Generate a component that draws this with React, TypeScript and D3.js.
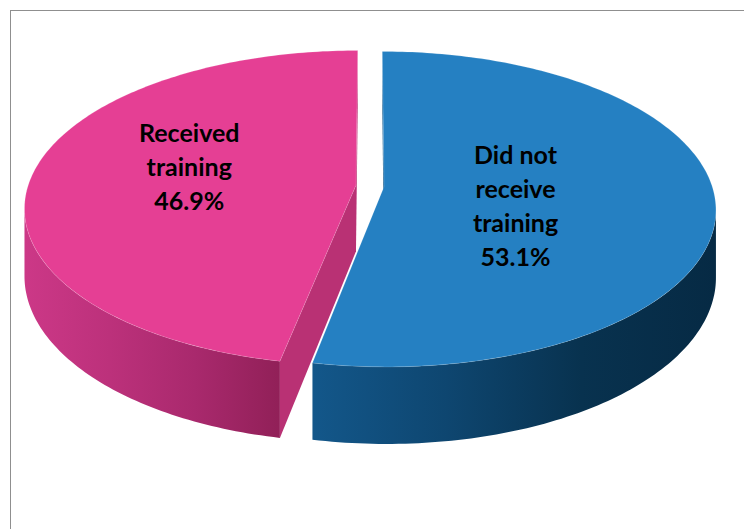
import React from "react";
import * as d3 from "d3";

// ---- data ----
const categories = ["Did not receive training", "Received training"];
const values = [53.1, 46.9];
const labelLines = [
  ["Did not", "receive", "training", "53.1%"],
  ["Received", "training", "46.9%"],
];
const topColors = ["#2580C2", "#E53F94"];
const wallStops = [
  ["#13578A", "#0E4670", "#08324F", "#062A44"],
  ["#CC3887", "#BC317B", "#A9296D", "#912058"],
];
const cutColors = ["#1A5F90", "#B93174"];

// ---- layout ----
const W = 744;
const H = 529;
const CX = 370;
const CY = 186;
const RX = 328;
const RY = 154.3;
const K = 1 / 7; // perspective strength
const DEPTH = 66;
const EXPLODE = 0.043;
const LABEL_R = [0.4, 0.515];
const LABEL_DY = [14, -10];
const LINE_H = 34;
const FONT = "Lato, 'Open Sans', sans-serif";
const FONT_SIZE = 25;

function proj(u: number, w: number, h: number): [number, number] {
  const d = 1 - K * w;
  return [CX + (RX * u) / d, CY + (RY * w + DEPTH * h) / d];
}

export default function App() {
  const pie = d3
    .pie<number>()
    .sort(null)
    .value((d) => d)
    .startAngle(0)
    .endAngle(2 * Math.PI);
  const arcs = pie(values);
  const thR = Math.acos(-K);
  const thL = 2 * Math.PI - thR;
  const line = d3.line();

  const slices = arcs.map((a, i) => {
    const mid = (a.startAngle + a.endAngle) / 2;
    const ox = EXPLODE * Math.sin(mid);
    const ow = -EXPLODE * Math.cos(mid);
    const rim = (t: number, h: number) => proj(ox + Math.sin(t), ow - Math.cos(t), h);
    const steps = (t0: number, t1: number) => {
      const n = Math.max(2, Math.ceil(((t1 - t0) / Math.PI) * 180));
      return d3.range(n + 1).map((j) => t0 + ((t1 - t0) * j) / n);
    };
    const vTop = proj(ox, ow, 0);
    const vBot = proj(ox, ow, 1);
    const topPts = [vTop, ...steps(a.startAngle, a.endAngle).map((t) => rim(t, 0))];
    const topPath = line(topPts as any) + "Z";

    let wallPath: string | null = null;
    let wx0 = 0,
      wx1 = 0;
    const w0 = Math.max(a.startAngle, thR);
    const w1 = Math.min(a.endAngle, thL);
    if (w1 > w0) {
      const ts = steps(w0, w1);
      const pts = [...ts.map((t) => rim(t, 0)), ...ts.slice().reverse().map((t) => rim(t, 1))];
      wallPath = line(pts as any) + "Z";
      const xs = pts.map((p) => p[0]);
      wx0 = d3.min(xs)!;
      wx1 = d3.max(xs)!;
    }

    const area = (pts: [number, number][]) => {
      let s = 0;
      for (let j = 0; j < pts.length; j++) {
        const p = pts[j];
        const q = pts[(j + 1) % pts.length];
        s += p[0] * q[1] - q[0] * p[1];
      }
      return s / 2;
    };
    const cuts: string[] = [];
    const f1: [number, number][] = [vTop, rim(a.startAngle, 0), rim(a.startAngle, 1), vBot];
    const f2: [number, number][] = [vTop, vBot, rim(a.endAngle, 1), rim(a.endAngle, 0)];
    [f1, f2].forEach((f) => {
      if (area(f) < -1) cuts.push(line(f as any) + "Z");
    });

    const lr = LABEL_R[i];
    const lp = proj(ox + lr * Math.sin(mid), ow - lr * Math.cos(mid), 0);
    return { i, topPath, wallPath, wx0, wx1, cuts, lp };
  });

  const order = [1, 0];

  return (
    <div style={{ position: "fixed", left: 0, top: 0, width: W, height: H, background: "#fff" }}>
      <svg width={W} height={H} style={{ display: "block" }}>
        <defs>
          {slices.map((s) => (
            <linearGradient
              key={s.i}
              id={`wall${s.i}`}
              gradientUnits="userSpaceOnUse"
              x1={s.wx0}
              x2={s.wx1}
              y1={0}
              y2={0}
            >
              {wallStops[s.i].map((c, j) => (
                <stop key={j} offset={j / (wallStops[s.i].length - 1)} stopColor={c} />
              ))}
            </linearGradient>
          ))}
        </defs>
        <rect x={10.5} y={10.5} width={W + 20} height={H + 20} fill="#fff" stroke="#8f8f8f" strokeWidth={1} />
        {order.map((idx) => {
          const s = slices[idx];
          return (
            <g key={idx}>
              {s.wallPath && <path d={s.wallPath} fill={`url(#wall${idx})`} />}
              {s.cuts.map((c, j) => (
                <path key={j} d={c} fill={cutColors[idx]} />
              ))}
              <path d={s.topPath} fill={topColors[idx]} stroke="rgba(255,255,255,0.3)" strokeWidth={0.5} />
            </g>
          );
        })}
        {slices.map((s) => {
          const lines = labelLines[s.i];
          const y0 = s.lp[1] + LABEL_DY[s.i] - ((lines.length - 1) * LINE_H) / 2 + FONT_SIZE * 0.35;
          return (
            <text
              key={s.i}
              x={s.lp[0]}
              textAnchor="middle"
              fontFamily={FONT}
              fontWeight="bold"
              fontSize={FONT_SIZE}
              fill="#000"
            >
              {lines.map((l, j) => (
                <tspan key={j} x={s.lp[0]} y={y0 + j * LINE_H}>
                  {l}
                </tspan>
              ))}
            </text>
          );
        })}
      </svg>
    </div>
  );
}
